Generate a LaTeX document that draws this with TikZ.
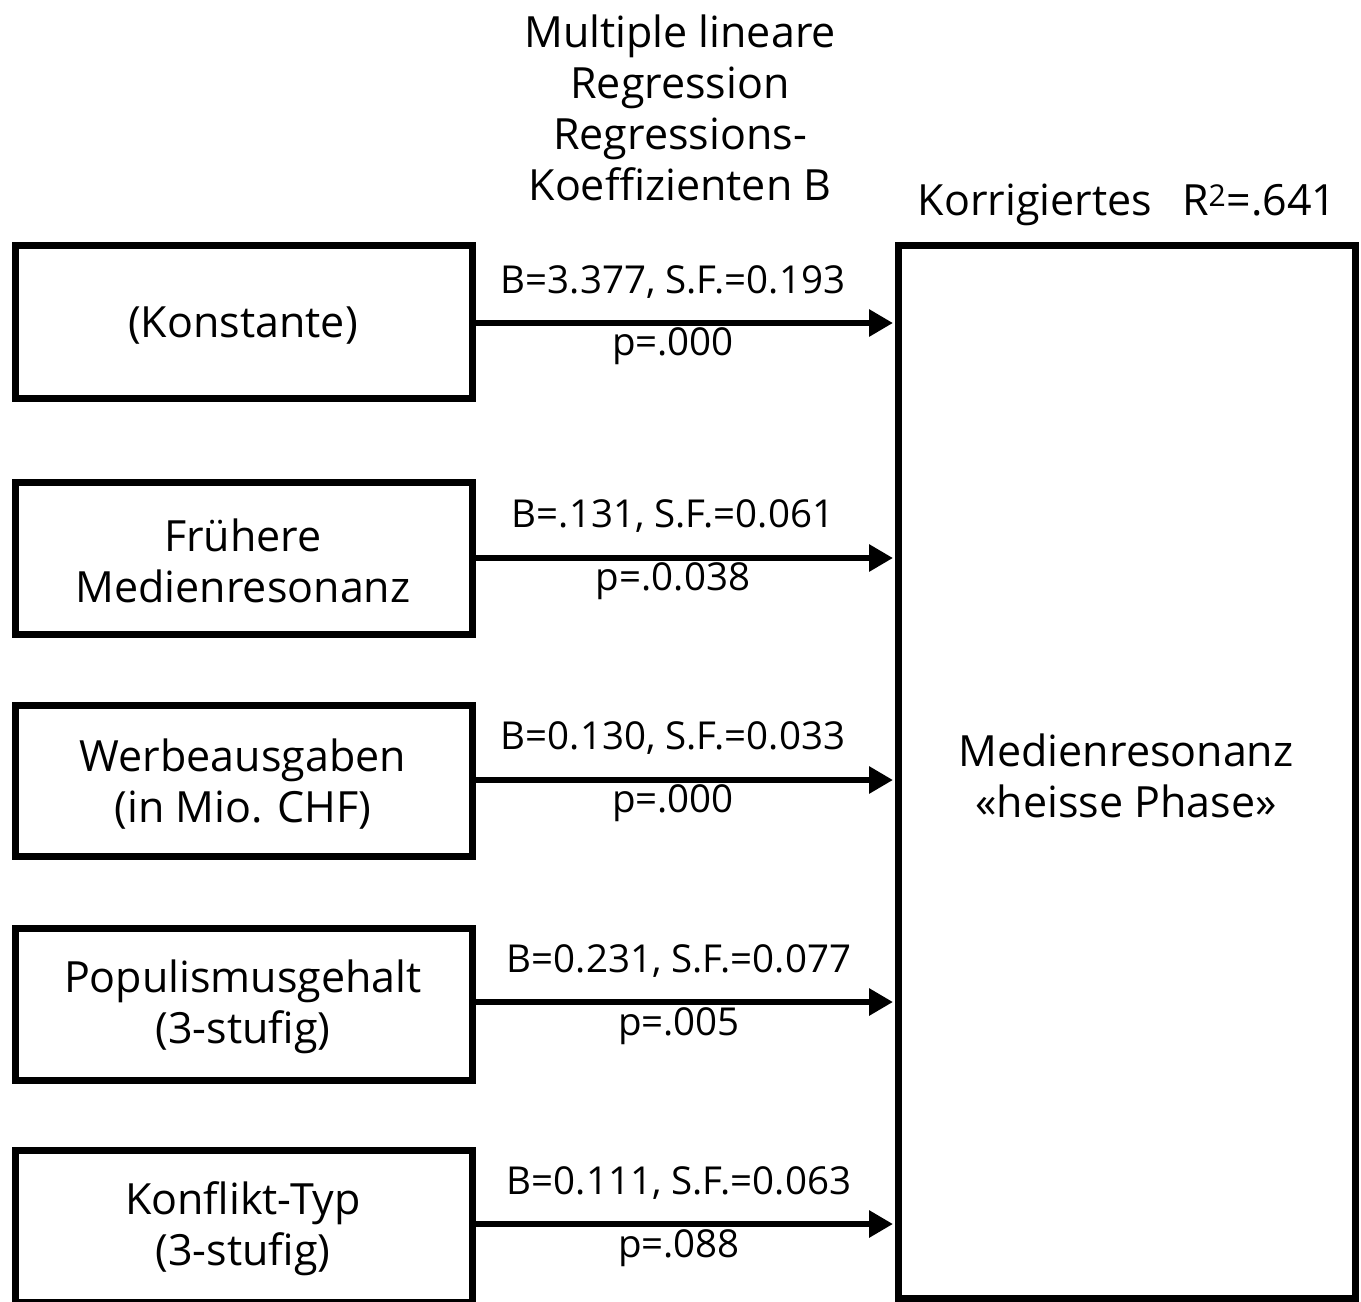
\documentclass[tikz,border=0pt]{standalone}
\usepackage{fontspec}
\setmainfont{Open Sans}
\usetikzlibrary{arrows.meta}
\begin{document}
\begin{tikzpicture}[x=1pt,y=-1pt,
  box/.style={draw,line width=7pt},
  big/.style={font=\fontsize{43}{51}\selectfont,align=center,inner sep=0pt},
  lab/.style={font=\fontsize{38.5}{40}\selectfont,inner sep=0pt},
  arr/.style={line width=6pt,-{Triangle[length=24pt,width=26pt]}}]
\useasboundingbox (0,0) rectangle (1361,1302);
\draw[box] (15.5,245.5) rectangle (472.5,398.5);
\draw[box] (15.5,482.5) rectangle (472.5,634.5);
\draw[box] (15.5,705.5) rectangle (472.5,856.5);
\draw[box] (15.5,928.5) rectangle (472.5,1080.5);
\draw[box] (15.5,1150.5) rectangle (472.5,1302.5);
\draw[box] (898.5,245.5) rectangle (1355.5,1298.5);
\node[big] (k) at (243,326) {(Konstante)};
\node[big] (f) at (243,561) {Frühere\\Medienresonanz};
\node[big] (w) at (243,784) {Werbeausgaben\\(in Mio. CHF)};
\node[big] (p) at (243,1007) {Populismusgehalt\\(3-stufig)};
\node[big] (c) at (243,1229) {Konflikt-Typ\\(3-stufig)};
\node[big] (m) at (1126,776) {Medienresonanz\\«heisse Phase»};
\node[big] (h) at (680,108) {Multiple lineare\\Regression\\Regressions-\\Koeffizienten B};
\node[big] (r) at (1127,205) {Korrigiertes\hspace{0.7em}R\textsuperscript{2}=.641};
\coordinate (k1) at (475,323); \coordinate (k2) at (893,323);
\coordinate (f1) at (475,558); \coordinate (f2) at (893,558);
\coordinate (w1) at (475,780); \coordinate (w2) at (893,780);
\coordinate (p1) at (475,1002); \coordinate (p2) at (893,1002);
\coordinate (c1) at (475,1224); \coordinate (c2) at (893,1224);
\draw[arr] (k1) -- (k2);
\draw[arr] (f1) -- (f2);
\draw[arr] (w1) -- (w2);
\draw[arr] (p1) -- (p2);
\draw[arr] (c1) -- (c2);
\node[lab] (kb) at (673,282) {B=3.377, S.F.=0.193};
\node[lab] (kp) at (673,346) {p=.000};
\node[lab] (fb) at (673,516) {B=.131, S.F.=0.061};
\node[lab] (fp) at (673,581) {p=.0.038};
\node[lab] (wb) at (673,738) {B=0.130, S.F.=0.033};
\node[lab] (wp) at (673,803) {p=.000};
\node[lab] (pb) at (679,961) {B=0.231, S.F.=0.077};
\node[lab] (pp) at (679,1026) {p=.005};
\node[lab] (cb) at (679,1183) {B=0.111, S.F.=0.063};
\node[lab] (cp) at (679,1248) {p=.088};
\end{tikzpicture}
\end{document}
